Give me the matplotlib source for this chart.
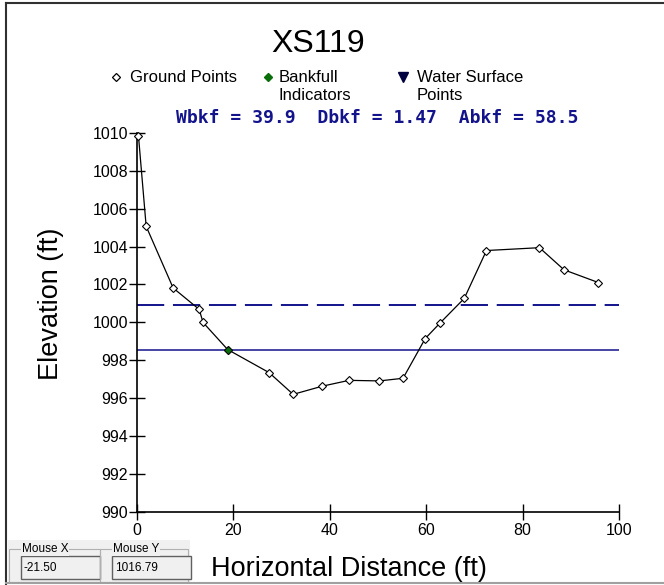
import matplotlib
matplotlib.use("Agg")
import matplotlib.pyplot as plt
from matplotlib.lines import Line2D
from matplotlib.patches import Rectangle

plt.rcParams['font.family'] = ['Liberation Sans', 'DejaVu Sans']

# ground survey points (station ft, elevation ft)
station = [0.3, 1.9, 7.5, 12.9, 13.7, 18.8, 27.4, 32.4, 38.4, 44.0, 50.3, 55.2,
           59.8, 62.8, 67.9, 72.5, 83.5, 88.6, 95.7]
elev = [1009.86, 1005.07, 1001.81, 1000.68, 999.99, 998.56, 997.34, 996.19, 996.62,
        996.93, 996.90, 997.04, 999.14, 999.94, 1001.26, 1003.79, 1003.94, 1002.77, 1002.10]

bkf_station = [18.8]
bkf_elev = [998.56]

bankfull_level = 998.56
floodprone_level = 1000.93

stats = "Wbkf = 39.9  Dbkf = 1.47  Abkf = 58.5"
mouse_x = "-21.50"
mouse_y = "1016.79"

W, H = 664, 585
navy = '#13138c'

fig = plt.figure(figsize=(W / 100, H / 100), dpi=100)

def fx(px):
    return px / W

def fy(py):
    return 1 - py / H

ax = fig.add_axes([fx(137), fy(511.5), fx(619) - fx(137), fy(133) - fy(511.5)])

ax.axhline(floodprone_level, color=navy, lw=1.4, dashes=(14, 4.5))
ax.axhline(bankfull_level, color=navy, lw=1.1)
ax.plot(station, elev, color='black', lw=0.9, marker='D', ms=4, mfc='white',
        mec='black', mew=0.8, clip_on=False, zorder=3)
ax.plot(bkf_station, bkf_elev, ls='none', marker='D', ms=4.2, mfc='#0a6e0a',
        mec='black', mew=0.6, zorder=4)

ax.set_xlim(0, 100)
ax.set_ylim(990, 1010)
ax.set_xticks(range(0, 101, 20))
ax.set_yticks(range(990, 1011, 2))
ax.spines['top'].set_visible(False)
ax.spines['right'].set_visible(False)
for s in ('left', 'bottom'):
    ax.spines[s].set_linewidth(1.2)
ax.tick_params(direction='inout', length=11, width=1.0, labelsize=11.5)
ax.tick_params(axis='x', pad=2.5)
ax.tick_params(axis='y', pad=1)

fig.text(fx(318), fy(44), "XS119", fontsize=23, ha='center', va='center')
fig.text(fx(349), fy(569), "Horizontal Distance (ft)", fontsize=19.5,
         ha='center', va='center')
fig.text(fx(51), fy(304), "Elevation (ft)", fontsize=19.5, rotation=90,
         ha='center', va='center')

# legend drawn by hand
leg_y = fy(77)
fig.add_artist(Line2D([fx(116)], [leg_y], marker='D', ms=4, mfc='white',
                      mec='black', mew=0.9, ls='none'))
fig.add_artist(Line2D([fx(268)], [leg_y], marker='D', ms=4.5, mfc='#0a6e0a',
                      mec='#0a6e0a', ls='none'))
fig.add_artist(Line2D([fx(403)], [leg_y], marker='v', ms=7, mfc='#000040',
                      mec='#000040', ls='none'))
fig.text(fx(130), leg_y, "Ground Points", fontsize=12, va='center')
fig.text(fx(279), leg_y, "Bankfull", fontsize=12, va='center')
fig.text(fx(279), fy(96), "Indicators", fontsize=12, va='center')
fig.text(fx(417), leg_y, "Water Surface", fontsize=12, va='center')
fig.text(fx(417), fy(96), "Points", fontsize=12, va='center')

fig.text(fx(377), fy(118), stats, fontsize=13, family='DejaVu Sans Mono',
         weight='bold', color=navy, ha='center', va='center')

# window frame
fig.add_artist(Line2D([fx(6), fx(664)], [fy(3), fy(3)], color='#303030', lw=1.5))
fig.add_artist(Line2D([fx(6), fx(6)], [fy(3), fy(585)], color='#303030', lw=1.5))
fig.add_artist(Line2D([fx(6), fx(664)], [fy(583), fy(583)], color='#a0a0a0', lw=1.5))

# mouse readout panel
fig.add_artist(Rectangle((fx(8), fy(583)), fx(190) - fx(8), fy(540) - fy(583),
                         transform=fig.transFigure, fc='#f0f0f0', ec='none'))
for x0, x1, label, val in [(9, 100, "Mouse X", mouse_x), (100, 188, "Mouse Y", mouse_y)]:
    fig.add_artist(Rectangle((fx(x0), fy(582)), fx(x1) - fx(x0), fy(549) - fy(582),
                             transform=fig.transFigure, fc='none', ec='#b0b0b0', lw=0.8))
    fig.text(fx(x0 + 13), fy(549), label, fontsize=8.5, va='center',
             bbox=dict(fc='#f0f0f0', ec='none', pad=0.5))
    fig.add_artist(Rectangle((fx(x0 + 12), fy(579)), 79 / W, 23 / H,
                             transform=fig.transFigure, fc='#f0f0f0', ec='#606060', lw=1.0))
    fig.text(fx(x0 + 15), fy(568), val, fontsize=8.5, va='center')

fig.savefig("out.png", dpi=100)
